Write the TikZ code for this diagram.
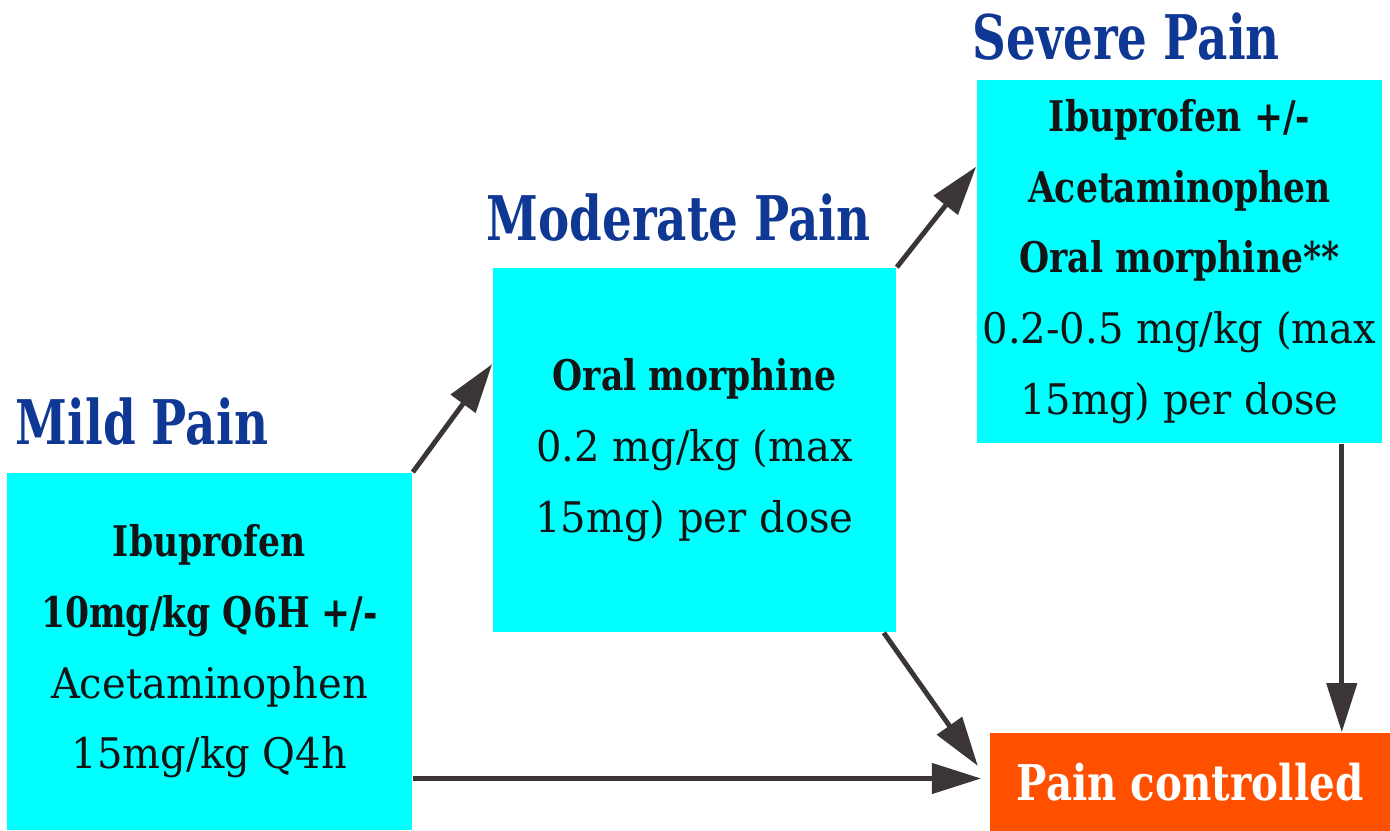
\documentclass[tikz,border=0pt]{standalone}
\usepackage{fontspec}
\setmainfont{DejaVu Serif}[FakeStretch=0.95,BoldFeatures={FakeStretch=0.82}]
\newfontfamily\headfont{DejaVu Serif}[FakeStretch=0.76,BoldFeatures={FakeStretch=0.76}]
\usetikzlibrary{arrows.meta,calc}
\definecolor{Aqua}{HTML}{00FFFF}
\definecolor{Navy}{HTML}{0F3794}
\definecolor{Flame}{HTML}{FF5000}
\definecolor{Ink}{HTML}{3B3536}

\begin{document}
\begin{tikzpicture}[x=0.01cm,y=-0.01cm,
    dose/.style={fill=Aqua,minimum width=4.05cm,minimum height=3.63cm,
      inner sep=0pt,align=center,text=black!92,
      font=\fontsize{12}{20.1}\selectfont},
    level/.style={anchor=base west,text=Navy,inner sep=0pt,
      font=\headfont\fontsize{17.5}{20}\selectfont\bfseries},
    done/.style={fill=Flame,text=white,minimum width=4cm,minimum height=0.98cm,
      inner sep=0pt,font=\fontsize{14}{16}\selectfont\bfseries},
    arr/.style={draw=Ink,line width=1.4pt,-{Triangle[length=14pt,width=8.5pt]}}
  ]
    \useasboundingbox (0,0) rectangle (1390,831);
    % boxes
    \node[dose,minimum height=3.57cm] (mild) at (209.5,651.5)
      {\textbf{Ibuprofen}\\ \textbf{10mg/kg Q6H +/-}\\ Acetaminophen\\ 15mg/kg Q4h};
    \node[dose,minimum width=4.03cm,minimum height=3.64cm] (moderate) at (694.5,450)
      {\textbf{Oral morphine}\\ 0.2 mg/kg (max\\ 15mg) per dose};
    \node[dose] (severe) at (1179.5,261.5)
      {\textbf{Ibuprofen +/-}\\ \textbf{Acetaminophen}\\ \textbf{Oral morphine**}\\
       0.2-0.5 mg/kg (max\\ 15mg) per dose};
    \node[done] (pain) at (1190,782) {Pain controlled};
    % titles
    \node[level] (mildT) at (15,445) {Mild Pain};
    \node[level] (moderateT) at (486,241) {Moderate Pain};
    \node[level] (severeT) at (972,60) {Severe Pain};
    % arrows
    \coordinate (drop) at ([xshift=-0.41cm]severe.south east);
    \draw[arr] (mild.north east) -- (moderate.157);
    \draw[arr] (moderate.north east) -- (severe.155);
    \draw[arr,shorten >=5.6pt] (moderate.-44.5) -- (pain.west);
    \draw[arr,shorten >=2.3pt] (mild.east |- pain.179) -- (pain.179);
    \draw[arr] (drop) -- (drop |- pain.north);
\end{tikzpicture}
\end{document}
